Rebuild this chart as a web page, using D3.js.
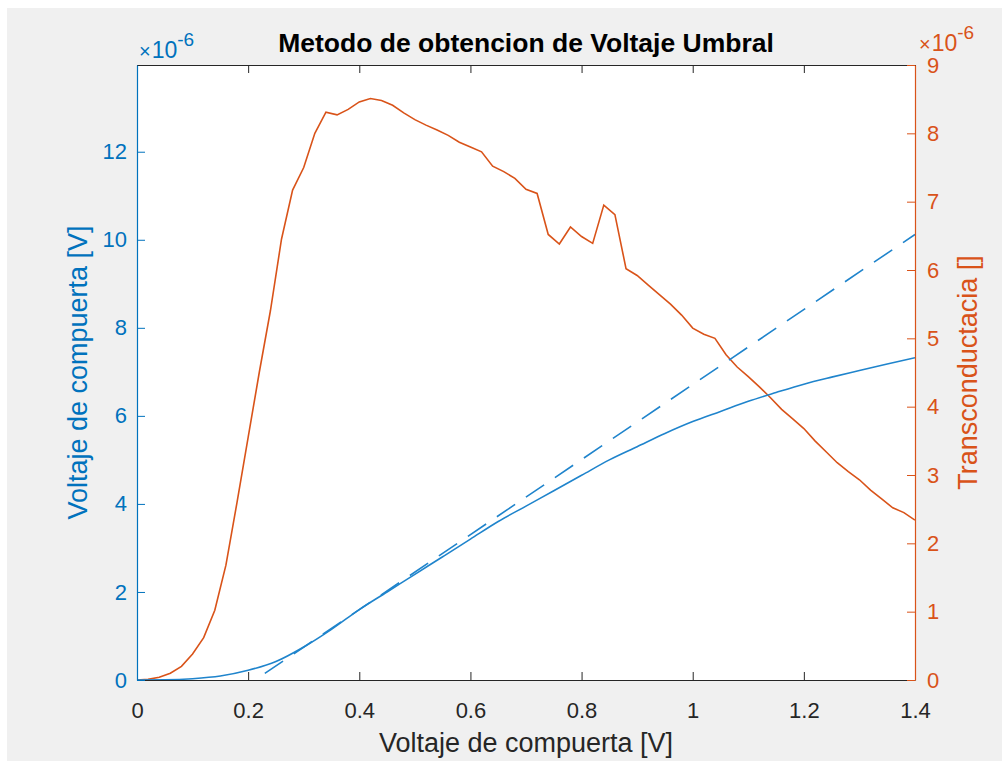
<!DOCTYPE html>
<html>
<head>
<meta charset="utf-8">
<script src="https://cdn.jsdelivr.net/npm/d3@7"></script>
<style>
  body { margin: 0; background: #fff; }
  svg { display: block; }
  text { font-family: "Liberation Sans", Arial, Helvetica, sans-serif; }
</style>
</head>
<body>
<svg id="chart" width="1003" height="761"></svg>
<script>
// gate voltage samples for the transconductance curve (step 0.02 V)
const vgGm = d3.range(0, 71).map(i => +(i * 0.02).toFixed(2))
// transconductance values, x1e-6
const gm = [
  0, 0.01, 0.04, 0.1, 0.2, 0.38, 0.62, 1.02, 1.68, 2.6,
  3.55, 4.5, 5.4, 6.45, 7.17, 7.5, 8.0, 8.31, 8.27, 8.35,
  8.46, 8.51, 8.48, 8.41, 8.3, 8.2, 8.12, 8.05, 7.97, 7.87,
  7.8, 7.73, 7.52, 7.44, 7.34, 7.18, 7.12, 6.52, 6.38, 6.63,
  6.49, 6.39, 6.95, 6.81, 6.02, 5.92, 5.78, 5.64, 5.5, 5.34,
  5.15, 5.06, 5.0, 4.76, 4.58, 4.44, 4.29, 4.13, 3.96, 3.82,
  3.68, 3.5, 3.34, 3.18, 3.05, 2.93, 2.78, 2.65, 2.52, 2.45,
  2.34
]
// drain current curve, x1e-6
const vgId = [0, 0.05, 0.1, 0.15, 0.2, 0.25, 0.3, 0.35, 0.4, 0.45, 0.5, 0.55, 0.6, 0.65, 0.7,
  0.75, 0.8, 0.85, 0.9, 0.95, 1.0, 1.05, 1.1, 1.15, 1.2, 1.25, 1.3, 1.35, 1.4]
const id = [0, 0.005, 0.03, 0.09, 0.22, 0.42, 0.75, 1.15, 1.6, 2.0, 2.4, 2.8, 3.2, 3.6, 3.95,
  4.3, 4.65, 5.0, 5.3, 5.6, 5.87, 6.1, 6.33, 6.53, 6.72, 6.88, 7.03, 7.18, 7.32]
// tangent line at max transconductance
const tanX = [0.23, 1.4]
const tanY = [0.15, 10.12]

const xTicks = [0, 0.2, 0.4, 0.6, 0.8, 1, 1.2, 1.4]
const yLeftTicks = [0, 2, 4, 6, 8, 10, 12]
const yRightTicks = [0, 1, 2, 3, 4, 5, 6, 7, 8, 9]

const blue = '#0072BD'
const lineBlue = '#1f84cc'
const orange = '#D95319'
const dark = '#262626'

const svg = d3.select('#chart')
const margin = { left: 137, top: 65, right: 915, bottom: 680 }

svg.append('rect')
  .attr('x', 7).attr('y', 8).attr('width', 995).attr('height', 753)
  .attr('fill', '#f0f0f0')

svg.append('rect')
  .attr('x', margin.left).attr('y', margin.top)
  .attr('width', margin.right - margin.left).attr('height', margin.bottom - margin.top)
  .attr('fill', '#fff')

const x = d3.scaleLinear().domain([0, 1.4]).range([margin.left, margin.right])
const yL = d3.scaleLinear().domain([0, 13.97]).range([margin.bottom, margin.top])
const yR = d3.scaleLinear().domain([0, 9]).range([margin.bottom, margin.top])

svg.append('clipPath').attr('id', 'clip')
  .append('rect')
  .attr('x', margin.left).attr('y', margin.top)
  .attr('width', margin.right - margin.left).attr('height', margin.bottom - margin.top)

const plot = svg.append('g').attr('clip-path', 'url(#clip)')

// transconductance
plot.append('path')
  .datum(vgGm.map((v, i) => [v, gm[i]]))
  .attr('d', d3.line().x(d => x(d[0])).y(d => yR(d[1])))
  .attr('fill', 'none')
  .attr('stroke', orange)
  .attr('stroke-width', 1.6)

// drain current
plot.append('path')
  .datum(vgId.map((v, i) => [v, id[i]]))
  .attr('d', d3.line().curve(d3.curveMonotoneX).x(d => x(d[0])).y(d => yL(d[1])))
  .attr('fill', 'none')
  .attr('stroke', lineBlue)
  .attr('stroke-width', 1.6)

// tangent
plot.append('path')
  .datum(tanX.map((v, i) => [v, tanY[i]]))
  .attr('d', d3.line().x(d => x(d[0])).y(d => yL(d[1])))
  .attr('fill', 'none')
  .attr('stroke', lineBlue)
  .attr('stroke-width', 1.6)
  .attr('stroke-dasharray', '22,13')

const tickLen = 8
const fontTick = '22px'

// bottom axis
const gx = svg.append('g')
  .attr('transform', `translate(0,${margin.bottom})`)
  .call(d3.axisBottom(x).tickValues(xTicks).tickSizeInner(-tickLen).tickSizeOuter(0).tickPadding(22)
    .tickFormat(d => d))
gx.select('.domain').attr('stroke', dark).attr('stroke-width', 1.2)
gx.selectAll('.tick line').attr('stroke', dark)
gx.selectAll('.tick text').attr('fill', dark).style('font-size', fontTick)

// top axis
const gt = svg.append('g')
  .attr('transform', `translate(0,${margin.top})`)
  .call(d3.axisTop(x).tickValues(xTicks).tickSizeInner(-tickLen).tickSizeOuter(0).tickFormat(''))
gt.select('.domain').attr('stroke', dark).attr('stroke-width', 1.2)
gt.selectAll('.tick line').attr('stroke', dark)

// left axis
const gl = svg.append('g')
  .attr('transform', `translate(${margin.left},0)`)
  .call(d3.axisLeft(yL).tickValues(yLeftTicks).tickSizeInner(-tickLen).tickSizeOuter(0).tickPadding(10))
gl.select('.domain').attr('stroke', blue).attr('stroke-width', 1.2)
gl.selectAll('.tick line').attr('stroke', blue)
gl.selectAll('.tick text').attr('fill', blue).style('font-size', fontTick)

// right axis
const gr = svg.append('g')
  .attr('transform', `translate(${margin.right},0)`)
  .call(d3.axisRight(yR).tickValues(yRightTicks).tickSizeInner(-tickLen).tickSizeOuter(0).tickPadding(12))
gr.select('.domain').attr('stroke', orange).attr('stroke-width', 1.2)
gr.selectAll('.tick line').attr('stroke', orange)
gr.selectAll('.tick text').attr('fill', orange).style('font-size', fontTick)

// exponent labels
function expLabel(xp, yp, color) {
  const t = svg.append('text').attr('x', xp).attr('y', yp).attr('fill', color).style('font-size', '23px')
  t.append('tspan').text('\u00d7').style('font-size', '20px').attr('dx', 0)
  t.append('tspan').text('10').attr('dx', 1)
  t.append('tspan').text('-6').attr('dy', -12).style('font-size', '19px')
}
expLabel(139, 58, blue)
expLabel(919, 51, orange)

// title
svg.append('text')
  .attr('x', (margin.left + margin.right) / 2).attr('y', 52)
  .attr('text-anchor', 'middle')
  .attr('fill', '#000')
  .style('font-size', '26.5px').style('font-weight', 'bold')
  .text('Metodo de obtencion de Voltaje Umbral')

// axis labels
svg.append('text')
  .attr('x', (margin.left + margin.right) / 2).attr('y', 752)
  .attr('text-anchor', 'middle')
  .attr('fill', dark)
  .style('font-size', '27px')
  .text('Voltaje de compuerta [V]')

svg.append('text')
  .attr('transform', `translate(87,${(margin.top + margin.bottom) / 2}) rotate(-90)`)
  .attr('text-anchor', 'middle')
  .attr('fill', blue)
  .style('font-size', '27px')
  .text('Voltaje de compuerta [V]')

svg.append('text')
  .attr('transform', `translate(977,${(margin.top + margin.bottom) / 2}) rotate(-90)`)
  .attr('text-anchor', 'middle')
  .attr('fill', orange)
  .style('font-size', '27px')
  .text('Transconductacia []')
</script>
</body>
</html>
